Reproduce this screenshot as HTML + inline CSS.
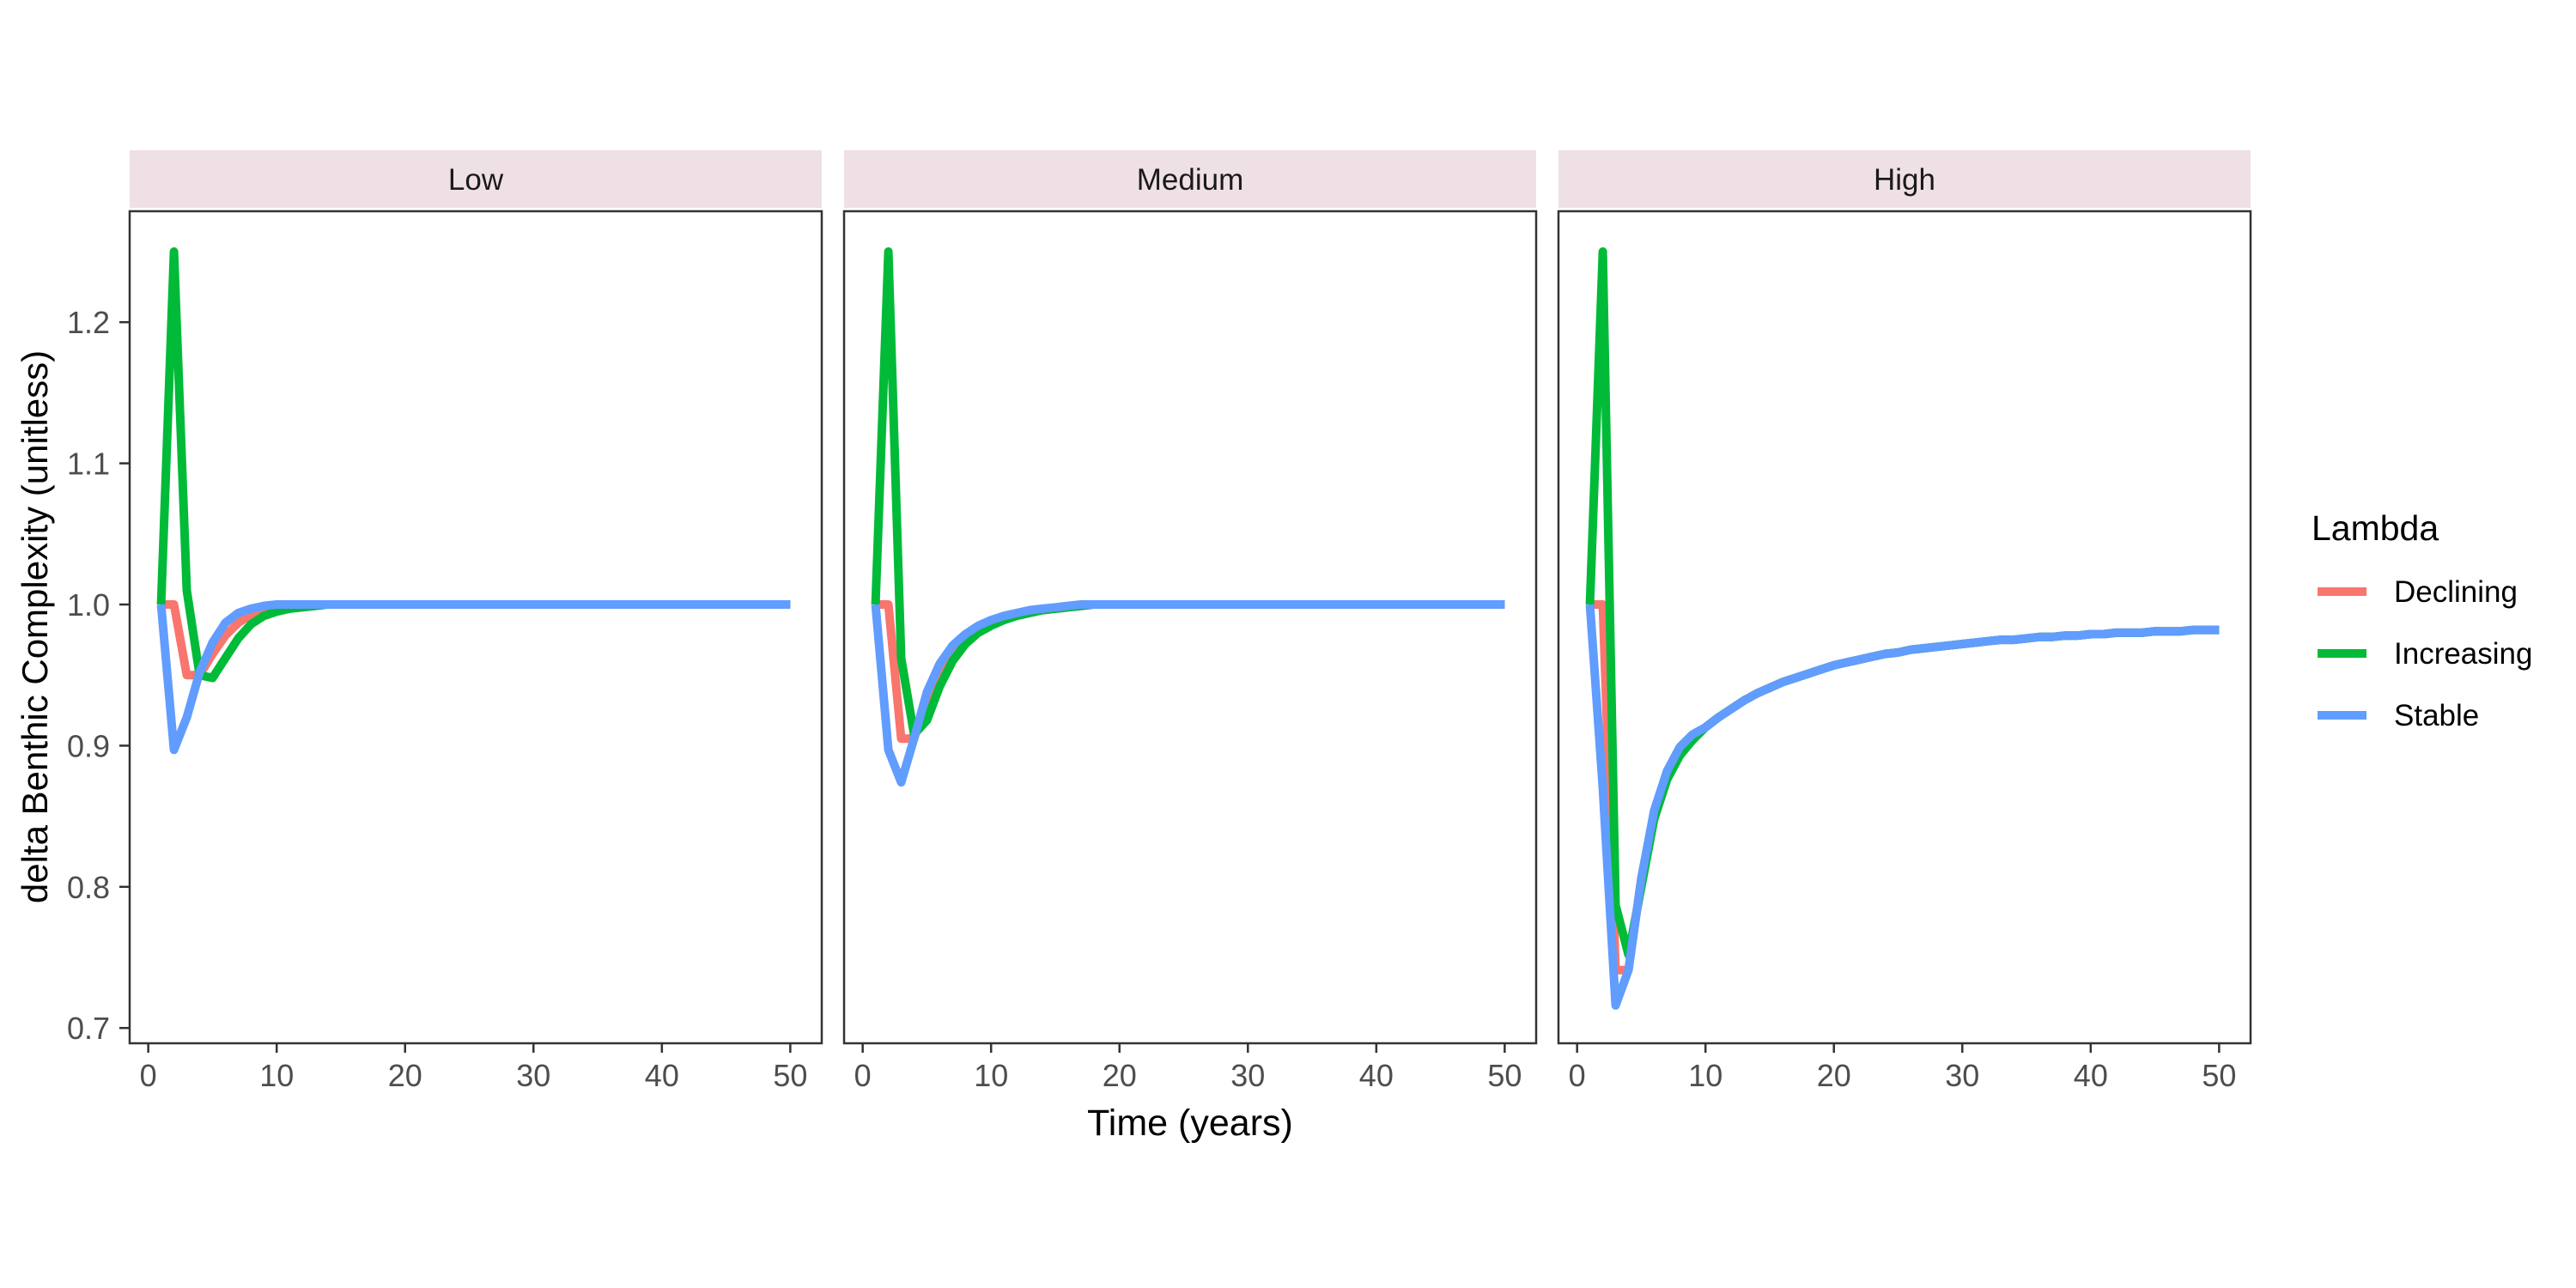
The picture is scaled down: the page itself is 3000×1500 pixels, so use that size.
<!DOCTYPE html>
<html><head><meta charset="utf-8"><style>
html,body{margin:0;padding:0;background:#fff;}
svg{display:block;font-family:"Liberation Sans",Arial,sans-serif;}
</style></head><body>
<svg id="chart" width="3000" height="1500" viewBox="0 0 3000 1500" xmlns="http://www.w3.org/2000/svg">
<rect width="3000" height="1500" fill="#fff"/>
<g id="panels"></g>
<text x="0" y="0" transform="translate(55,730) rotate(-90)" text-anchor="middle" font-size="42" fill="#000">delta Benthic Complexity (unitless)</text>
<text x="1386" y="1322" text-anchor="middle" font-size="43" fill="#000">Time (years)</text>
<g>
<text x="2692" y="629" font-size="41" fill="#000">Lambda</text>
<g id="legend-entries"></g>
</g>
</svg>
<script>
const years = Array.from({length:50},(_,i)=>i+1);
const panelNames = ["Low","Medium","High"];
const seriesNames = ["Declining","Increasing","Stable"];
const seriesColors = ["#F8766D","#00BA38","#619CFF"];
const xTicks = [0,10,20,30,40,50];
const yTicks = [0.7,0.8,0.9,1.0,1.1,1.2];
const yTickLabels = ["0.7","0.8","0.9","1.0","1.1","1.2"];

function tail(arr, fill){ const a=arr.slice(); while(a.length<50) a.push(fill); return a; }
const highTail = [0.913,0.92,0.926,0.932,0.937,0.941,0.945,0.948,0.951,0.954,0.957,0.959,0.961,0.963,0.965,0.966,0.968,0.969,0.97,0.971,0.972,0.973,0.974,0.975,0.975,0.976,0.977,0.977,0.978,0.978,0.979,0.979,0.98,0.98,0.98,0.981,0.981,0.981,0.982,0.982,0.982];
const lowDeclining = tail([1.0,1.0,0.95,0.95,0.965,0.978,0.987,0.993,0.996,0.998,0.999],1.0);
const lowIncreasing = tail([1.0,1.25,1.01,0.95,0.948,0.962,0.976,0.986,0.992,0.995,0.997,0.998,0.999],1.0);
const lowStable = tail([1.0,0.897,0.92,0.952,0.973,0.987,0.994,0.997,0.999],1.0);
const medDeclining = tail([1.0,1.0,0.905,0.905,0.935,0.955,0.968,0.977,0.984,0.988,0.991,0.993,0.995,0.996,0.997,0.998,0.999],1.0);
const medIncreasing = tail([1.0,1.25,0.962,0.908,0.918,0.942,0.96,0.972,0.98,0.985,0.989,0.992,0.994,0.996,0.997,0.998,0.999],1.0);
const medStable = tail([1.0,0.897,0.874,0.905,0.938,0.958,0.971,0.979,0.985,0.989,0.992,0.994,0.996,0.997,0.998,0.999],1.0);
const highDeclining = [1.0,1.0,0.741,0.741,0.806,0.852,0.88,0.897,0.906].concat(highTail);
const highIncreasing = [1.0,1.25,0.787,0.752,0.8,0.848,0.876,0.893,0.904].concat(highTail);
const highStable = [1.0,0.87,0.716,0.741,0.806,0.854,0.882,0.899,0.908].concat(highTail);
const data = [[lowDeclining,lowIncreasing,lowStable],[medDeclining,medIncreasing,medStable],[highDeclining,highIncreasing,highStable]];

const NS="http://www.w3.org/2000/svg";
const panelLeft=[151,983,1815], panelW=806, panelTop=246, panelBot=1215;
const xMin=-1.45, xMax=52.45;
function xScale(p,v){ return panelLeft[p] + (v-xMin)/(xMax-xMin)*panelW; }
function yScale(v){ return 704 - (v-1.0)*1644; }
function el(tag,attrs,parent){ const e=document.createElementNS(NS,tag); for(const k in attrs) e.setAttribute(k,attrs[k]); parent.appendChild(e); return e; }

const g=document.getElementById('panels');
panelNames.forEach((name,p)=>{
  const pg=el('g',{},g);
  
  
  const strip=el('rect',{x:panelLeft[p],y:175,width:panelW,height:67,fill:"#EFE0E5"},pg);
  
  
  const st=el('text',{x:panelLeft[p]+panelW/2,y:221,'text-anchor':'middle','font-size':35,fill:'#1A1A1A'},pg);
  st.textContent=name;
  
  
  data[p].forEach((vals,s)=>{
    const pts=years.map((yr,i)=>xScale(p,yr).toFixed(1)+','+yScale(vals[i]).toFixed(1)).join(' ');
    const pl=el('polyline',{points:pts,fill:'none',stroke:seriesColors[s],'stroke-width':10,'stroke-linejoin':'round','stroke-linecap':'butt'},pg);
    
    
  });
  const border=el('rect',{x:panelLeft[p],y:panelTop,width:panelW,height:panelBot-panelTop,fill:'none',stroke:'#333333','stroke-width':2.5},pg);
  
  
  xTicks.forEach(t=>{
    const x=xScale(p,t);
    const tk=el('line',{x1:x,x2:x,y1:panelBot,y2:panelBot+11,stroke:'#333','stroke-width':2.5},pg);
    
    
    const tl=el('text',{x:x,y:1265,'text-anchor':'middle','font-size':36,fill:'#4D4D4D'},pg);
    tl.textContent=String(t);
    
    
  });
  if(p===0){
    yTicks.forEach((t,i)=>{
      const y=yScale(t);
      const tk=el('line',{x1:139,x2:151,y1:y,y2:y,stroke:'#333','stroke-width':2.5},pg);
      
      
      const tl=el('text',{x:128,y:y+13,'text-anchor':'end','font-size':36,fill:'#4D4D4D'},pg);
      tl.textContent=yTickLabels[i];
      
      
    });
  }
});
const lg=document.getElementById('legend-entries');
const legendY=[689,761,833];
seriesNames.forEach((n,s)=>{
  const eg=el('g',{},lg);
  
  
  el('line',{x1:2699,x2:2756,y1:legendY[s],y2:legendY[s],stroke:seriesColors[s],'stroke-width':10},eg);
  const t=el('text',{x:2788,y:legendY[s]+12,'font-size':35,fill:'#000'},eg);
  t.textContent=n;
});
</script>
</body></html>
